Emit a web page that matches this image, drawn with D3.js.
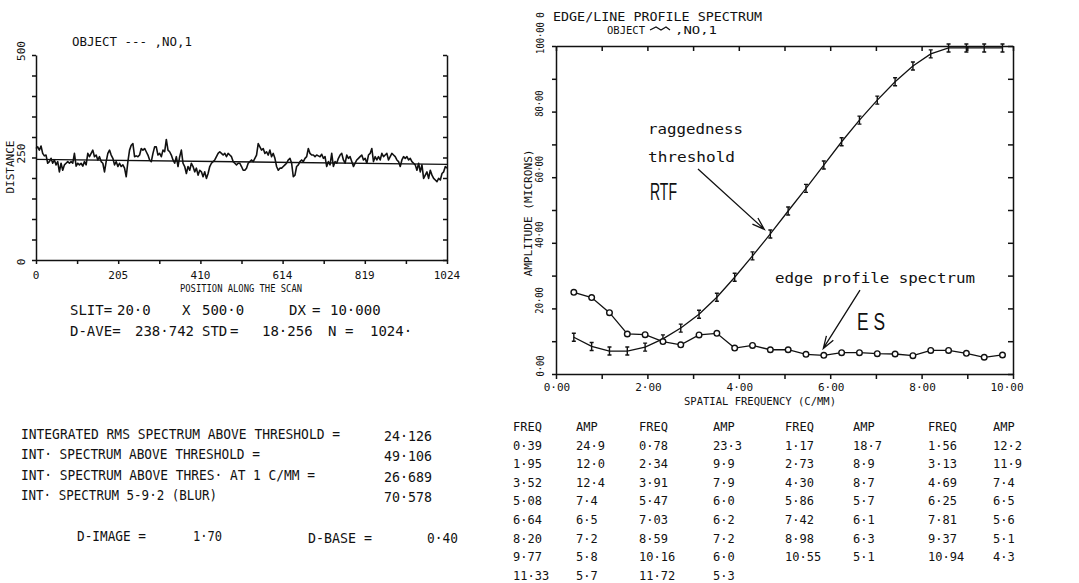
<!DOCTYPE html>
<html><head><meta charset="utf-8">
<script src="https://cdn.jsdelivr.net/npm/d3@7"></script>
<style>
body{margin:0;background:#fff}
svg{display:block}
text{font-family:"DejaVu Sans Mono",monospace;fill:#111}
</style>
</head><body><svg id="c" width="1079" height="583"></svg>
<script>
// ---------- DATA ----------
// Scan profile (distance vs position along the scan)
const scanValues = [
272,276,268,278,260,254,256,236,240,248,
236,244,232,240,215,236,219,232,236,240,
236,240,236,260,229,236,232,236,229,240,
232,260,252,260,268,252,256,244,252,240,
236,215,240,260,268,256,248,232,240,228,
236,228,232,224,203,240,268,280,284,252,
254,252,256,272,268,272,264,256,244,240,
260,276,276,256,260,252,268,264,294,268,
264,256,244,236,252,228,252,268,236,228,
211,228,219,236,228,215,224,207,219,215,
203,215,199,211,228,236,240,244,252,260,
264,260,256,260,252,260,256,252,240,236,
232,236,236,228,219,219,224,236,240,244,
240,248,256,284,276,268,272,260,264,256,
268,252,260,248,228,219,224,224,228,232,
236,244,248,236,203,207,228,232,240,244,
240,248,252,272,260,256,256,252,256,254,
252,258,248,252,228,240,232,260,228,240,
236,248,256,260,244,236,256,248,252,240,
228,236,244,248,252,256,244,248,236,256,
260,272,240,252,244,252,244,260,252,256,
260,244,252,260,256,252,244,240,228,244,
252,248,252,244,248,240,236,232,219,236,
215,232,199,207,215,199,219,207,199,195,
191,199,195,211,215,228,224];
const scanLength = 1024;
const trendEnds = [245.5, 233.3];           // fitted line at position 0 and 1024
const scanXTickLabels = ["0","205","410","614","819","1024"];
const scanYTickLabels = ["0","250","500"];

// Spectrum table (FREQ, AMP)
const tableFreq = [0.39,0.78,1.17,1.56,1.95,2.34,2.73,3.13,3.52,3.91,4.30,4.69,5.08,5.47,5.86,6.25,6.64,7.03,7.42,7.81,8.20,8.59,8.98,9.37,9.77,10.16,10.55,10.94,11.33,11.72];
const tableAmp  = [24.9,23.3,18.7,12.2,12.0,9.9,8.9,11.9,12.4,7.9,8.7,7.4,7.4,6.0,5.7,6.5,6.5,6.2,6.1,5.6,7.2,7.2,6.3,5.1,5.8,6.0,5.1,4.3,5.7,5.3];
// Raggedness threshold function (RTF) at the same frequencies
const rtfAmp = [11.2,8.4,7.0,7.0,8.2,10.7,14.0,18.2,23.4,29.5,36.0,42.7,49.7,56.6,63.7,70.8,77.4,83.5,89.1,93.9,97.6,99.4,99.4,99.4,99.4];
const specXTicks = [0,1,2,3,4,5,6,7,8,9,10];
const specYTicks = [0,10,20,30,40,50,60,70,80,90,100];

const statsRows = [
  ["INTEGRATED RMS SPECTRUM ABOVE THRESHOLD =", "24·126"],
  ["INT· SPECTRUM ABOVE THRESHOLD =", "49·106"],
  ["INT· SPECTRUM ABOVE THRES· AT 1 C/MM =", "26·689"],
  ["INT· SPECTRUM 5-9·2 (BLUR)", "70·578"]
];

// ---------- HELPERS ----------
const svg = d3.select("#c");
const dot = s => s.replace(/\./g, "·");
function txt(x, y, s, o = {}) {
  const t = svg.append("text").attr("x", x).attr("y", y).text(s)
    .attr("font-size", o.size || 12)
    .attr("text-anchor", o.anchor || "start");
  if (o.len) t.attr("textLength", o.len).attr("lengthAdjust", "spacingAndGlyphs");
  if (o.family) t.style("font-family", o.family);
  if (o.rot) t.attr("transform", `rotate(-90 ${x} ${y})`).attr("dominant-baseline", "central");
  return t;
}
function styleAxis(g) {
  g.selectAll("path,line").attr("stroke", "#111").attr("stroke-width", 1.5);
  g.selectAll("text").remove();
}

// ---------- LEFT: SCAN PROFILE ----------
const xL = d3.scaleLinear([0, scanLength], [36, 447]);
const yL = d3.scaleLinear([0, 500], [260, 55]);
const xTicksL = d3.range(0, 11).map(i => i * scanLength / 10);
const yTicksL = d3.range(0, 11).map(i => i * 50);

svg.append("g").attr("transform", `translate(0,${yL(0)})`)
  .call(d3.axisBottom(xL).tickValues(xTicksL).tickSize(4).tickSizeOuter(0)).call(styleAxis);
svg.append("g").attr("transform", `translate(${xL(0)},0)`)
  .call(d3.axisLeft(yL).tickValues(yTicksL).tickSize(4).tickSizeOuter(0)).call(styleAxis);
svg.append("g").attr("transform", `translate(${xL(scanLength)},0)`)
  .call(d3.axisRight(yL).tickValues(yTicksL).tickSize(-4).tickSizeOuter(0)).call(styleAxis);

const scanPos = scanValues.map((_, i) => i * scanLength / (scanValues.length - 1));
svg.append("path").datum(scanValues)
  .attr("fill", "none").attr("stroke", "#111").attr("stroke-width", 1.6).attr("stroke-linejoin", "round")
  .attr("d", d3.line().x((d, i) => xL(scanPos[i])).y(d => yL(d)));
svg.append("path").datum(trendEnds)
  .attr("fill", "none").attr("stroke", "#111").attr("stroke-width", 1.4)
  .attr("d", d3.line().x((d, i) => xL(i * scanLength)).y(d => yL(d)));

scanXTickLabels.forEach((s, i) => txt(xL(+s), 279, s, {size: 11, anchor: "middle"}));
scanYTickLabels.forEach(s => txt(21, yL(+s) - (s === "0" ? -2 : 4), s, {size: 11, anchor: "middle", rot: true}));
txt(10, 167, "DISTANCE", {size: 10.5, anchor: "middle", rot: true, len: 53});
txt(241, 292, "POSITION ALONG THE SCAN", {size: 10, anchor: "middle", len: 122});
txt(72, 46, "OBJECT  --- ,NO,1", {size: 12, len: 120});

// stats under the left chart
const row1 = [[70,"SLIT="],[117,"20·0"],[182,"X"],[202,"500·0"],[289,"DX"],[312,"="],[330,"10·000"]];
const row2 = [[70,"D-AVE="],[135,"238·742"],[202,"STD"],[230,"="],[262,"18·256"],[328,"N"],[345,"="],[370,"1024·"]];
row1.forEach(([x, s]) => txt(x, 315, s, {size: 14}));
row2.forEach(([x, s]) => txt(x, 336, s, {size: 14}));

const labelLens = [319, 239, 294, 196];
statsRows.forEach((r, i) => {
  txt(21, 439 + i * 20.3, r[0], {size: 14.5, len: labelLens[i]});
  txt(384, 441 + i * 20.3, r[1], {size: 14.5, len: 48});
});
txt(77, 541, "D-IMAGE =", {size: 14.5, len: 69});
txt(193, 541, "1·70", {size: 14.5, len: 29});
txt(308, 543, "D-BASE =", {size: 14.5, len: 64});
txt(427, 543, "0·40", {size: 14.5, len: 31});

// ---------- RIGHT: SPECTRUM ----------
const xR = d3.scaleLinear([0, 10], [556, 1013]);
const yR = d3.scaleLinear([0, 100], [374, 46]);

svg.append("g").attr("transform", `translate(0,${yR(0)})`)
  .call(d3.axisBottom(xR).tickValues(specXTicks).tickSize(5).tickSizeOuter(0)).call(styleAxis);
svg.append("g").attr("transform", `translate(0,${yR(100)})`)
  .call(d3.axisTop(xR).tickValues(specXTicks).tickSize(-5).tickSizeOuter(0)).call(styleAxis);
svg.append("g").attr("transform", `translate(${xR(0)},0)`)
  .call(d3.axisLeft(yR).tickValues(specYTicks).tickSize(4).tickSizeOuter(0)).call(styleAxis);
svg.append("g").attr("transform", `translate(${xR(10)},0)`)
  .call(d3.axisRight(yR).tickValues(specYTicks).tickSize(-5).tickSizeOuter(0)).call(styleAxis);

specXTicks.filter(v => v % 2 === 0).forEach(v =>
  txt(xR(v) + (v === 10 ? -6 : 1), 391, dot(d3.format(".2f")(v)), {size: 11, anchor: "middle"}));
specYTicks.filter(v => v % 20 === 0).forEach(v => {
  const s = dot(d3.format(".2f")(v));
  txt(540, yR(v) - 8, s, {size: 10, anchor: "middle", rot: true, len: s.length * 5.3});
});
txt(540, 15, "0", {size: 10, anchor: "middle", rot: true});
txt(528, 213, "AMPLITUDE (MICRONS)", {size: 10.5, anchor: "middle", rot: true, len: 127});
txt(760, 405, "SPATIAL FREQUENCY (C/MM)", {size: 10.5, anchor: "middle", len: 152});

txt(553, 21, "EDGE/LINE PROFILE SPECTRUM", {size: 13, len: 209});
txt(607, 34, "OBJECT", {size: 10.5, len: 38});
txt(675, 34, ",NO,1", {size: 10.5, len: 42});
// legend symbol
svg.append("path").attr("d", "M650,30 L656,27 L661,30 L666,27 L670,30")
  .attr("fill", "none").attr("stroke", "#111").attr("stroke-width", 1.2);

const n = rtfAmp.length;
const specFreq = tableFreq.slice(0, n);
const esAmp = tableAmp.slice(0, n);
const line = d3.line().x((d, i) => xR(specFreq[i])).y(d => yR(d));

svg.append("path").datum(rtfAmp).attr("fill", "none").attr("stroke", "#111").attr("stroke-width", 1.3).attr("d", line);
svg.append("path").datum(esAmp).attr("fill", "none").attr("stroke", "#111").attr("stroke-width", 1.3).attr("d", line);

// RTF markers (I-bars)
svg.append("g").selectAll("path").data(rtfAmp).join("path")
  .attr("d", (d, i) => {
    const x = xR(specFreq[i]), y = yR(d);
    return `M${x},${y-4}V${y+4}M${x-2},${y-4}H${x+2}M${x-2},${y+4}H${x+2}`;
  })
  .attr("stroke", "#111").attr("stroke-width", 1.4).attr("fill", "none");
// ES markers (circles)
svg.append("g").selectAll("circle").data(esAmp).join("circle")
  .attr("cx", (d, i) => xR(specFreq[i])).attr("cy", d => yR(d)).attr("r", 2.8)
  .attr("fill", "#fff").attr("stroke", "#111").attr("stroke-width", 1.4);

// annotations
txt(648, 134, "raggedness", {size: 14, len: 95});
txt(648, 162, "threshold", {size: 14, len: 87});
txt(650, 200, "RTF", {size: 23, len: 27, family: "'Liberation Sans',Arial,sans-serif"});
txt(775, 283, "edge profile spectrum", {size: 14, len: 200});
txt(857, 330, "E S", {size: 23, len: 28, family: "'Liberation Sans',Arial,sans-serif"});

const arrows = [
  {from: [3.107, 62.5], to: [4.558, 44.1]},
  {from: [6.652, 25.6], to: [5.849, 7.8]}
];
arrows.forEach(a => {
  const x1 = xR(a.from[0]), y1 = yR(a.from[1]), x2 = xR(a.to[0]), y2 = yR(a.to[1]);
  const ang = Math.atan2(y2 - y1, x2 - x1), L = 13, sp = 0.32;
  const p1 = [x2 - L * Math.cos(ang - sp), y2 - L * Math.sin(ang - sp)];
  const p2 = [x2 - L * Math.cos(ang + sp), y2 - L * Math.sin(ang + sp)];
  svg.append("path")
    .attr("d", `M${x1},${y1}L${x2},${y2}M${p1[0]},${p1[1]}L${x2},${y2}L${p2[0]},${p2[1]}`)
    .attr("fill", "none").attr("stroke", "#111").attr("stroke-width", 1.3);
});

// table
const colX = [[513, 576], [639, 713], [785, 853], [928, 993]];
const rowY0 = 431, rowDy = 18.6;
colX.forEach(([fx, ax]) => {
  txt(fx, rowY0, "FREQ", {size: 12});
  txt(ax, rowY0, "AMP", {size: 12});
});
tableFreq.forEach((f, i) => {
  const c = i % 4, r = Math.floor(i / 4) + 1;
  txt(colX[c][0], rowY0 + r * rowDy, dot(d3.format(".2f")(f)), {size: 12});
  txt(colX[c][1], rowY0 + r * rowDy, dot(d3.format(".1f")(tableAmp[i])), {size: 12});
});
</script>
</body></html>
